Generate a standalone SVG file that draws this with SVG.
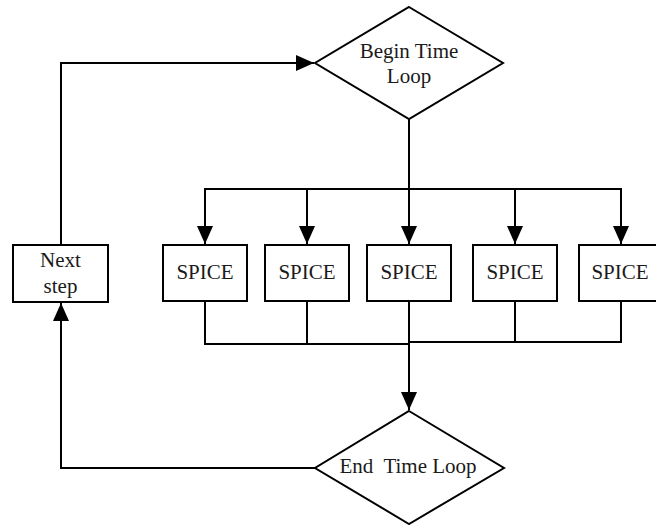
<svg xmlns="http://www.w3.org/2000/svg" width="656" height="525" viewBox="0 0 656 525">
<style>
.shape{fill:#fff;stroke:#000;stroke-width:2}
.conn{fill:none;stroke:#000;stroke-width:2}
text{font-family:"Liberation Serif","Times New Roman",serif;font-size:21px;fill:#1a1a1a;text-anchor:middle}
</style>
<defs>
<marker id="arr" viewBox="0 0 18 16" refX="18" refY="8" markerWidth="18" markerHeight="16" markerUnits="userSpaceOnUse" orient="auto">
<path d="M0,0 L18,8 L0,16 Z" fill="#000"/>
</marker>
</defs>
<rect width="656" height="525" fill="#fff"/>
<g id="connectors">
<polyline class="conn" points="61,245 61,63 314,63" marker-end="url(#arr)"/>
<line class="conn" x1="409" y1="119" x2="409" y2="244" marker-end="url(#arr)"/>
<polyline class="conn" points="205,244 205,189 621,189 621,244" marker-end="url(#arr)"/>
<line class="conn" x1="205" y1="189" x2="205" y2="244" marker-end="url(#arr)"/>
<line class="conn" x1="307" y1="189" x2="307" y2="244" marker-end="url(#arr)"/>
<line class="conn" x1="515" y1="189" x2="515" y2="244" marker-end="url(#arr)"/>
<polyline class="conn" points="205,301 205,344 409,344"/>
<line class="conn" x1="307" y1="301" x2="307" y2="344"/>
<polyline class="conn" points="409,342 621,342 621,301"/>
<line class="conn" x1="515" y1="301" x2="515" y2="342"/>
<line class="conn" x1="409" y1="301" x2="409" y2="410" marker-end="url(#arr)"/>
<polyline class="conn" points="315,468 61,468 61,303" marker-end="url(#arr)"/>
</g>
<g id="begin">
<polygon class="shape" points="409,7 503,63 409,119 315,63"/>
<text x="409" y="58">Begin Time</text>
<text x="409" y="83">Loop</text>
</g>
<g id="next">
<rect class="shape" x="13" y="245" width="95" height="57"/>
<text x="60.5" y="267">Next</text>
<text x="60.5" y="293">step</text>
</g>
<g id="spice1"><rect class="shape" x="163" y="245" width="84" height="56"/><text x="205" y="279">SPICE</text></g>
<g id="spice2"><rect class="shape" x="265" y="245" width="84" height="56"/><text x="307" y="279">SPICE</text></g>
<g id="spice3"><rect class="shape" x="367" y="245" width="84" height="56"/><text x="409" y="279">SPICE</text></g>
<g id="spice4"><rect class="shape" x="473" y="245" width="84" height="56"/><text x="515" y="279">SPICE</text></g>
<g id="spice5"><rect class="shape" x="579" y="245" width="84" height="56"/><text x="620" y="279">SPICE</text></g>
<g id="end">
<polygon class="shape" points="409,411 504,468 409,524 315,468"/>
<text x="408" y="473" xml:space="preserve">End  Time Loop</text>
</g>
</svg>
